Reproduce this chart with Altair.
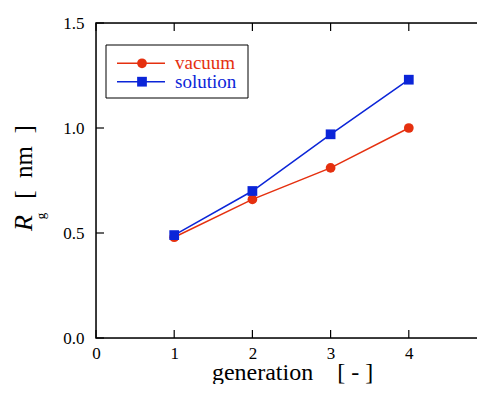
import altair as alt
import pandas as pd

# ---- data ----
generation = [1, 2, 3, 4]
vacuum = [0.48, 0.66, 0.81, 1.00]
solution = [0.49, 0.70, 0.97, 1.23]
series_names = ["vacuum", "solution"]
series_colors = ["#e5300f", "#0b25d8"]
series_shapes = ["circle", "square"]
x_ticks = [0, 1, 2, 3, 4, 5]
y_ticks = [0.0, 0.5, 1.0, 1.5]
x_title = "generation\u00a0\u00a0\u00a0\u00a0[ - ]"
y_title_main = "R"
y_title_sub = "g"
y_title_unit = "[\u00a0\u00a0nm\u00a0\u00a0]"

W, H = 381, 315      # visible part of the plot area (the reference runs past the window)
XR = 391             # pixel length of the full 0..5 x range
FONT = "Liberation Serif"
TICK = 8

rows = []
for name, vals in zip(series_names, [vacuum, solution]):
    for g, v in zip(generation, vals):
        rows.append({"generation": g, "Rg": v, "series": name})
df = pd.DataFrame(rows)

xs = alt.Scale(domain=[0, 5], range=[0, XR], nice=False, zero=False)
ys = alt.Scale(domain=[0, 1.5], nice=False, zero=False)

x_axis = alt.Axis(values=x_ticks, format="d", ticks=False, domain=False, grid=False,
                  labelFont=FONT, labelFontSize=17, labelColor="black",
                  labelPadding=7, title=None, labelFlush=False)
y_axis = alt.Axis(values=y_ticks, format=".1f", ticks=False, domain=False, grid=False,
                  labelFont=FONT, labelFontSize=17, labelColor="black",
                  labelPadding=12, title=None, labelFlush=False)

X = alt.X("generation:Q", scale=xs, axis=x_axis)
Y = alt.Y("Rg:Q", scale=ys, axis=y_axis)

color = alt.Color("series:N", scale=alt.Scale(domain=series_names, range=series_colors), legend=None)
shape = alt.Shape("series:N", scale=alt.Scale(domain=series_names, range=series_shapes), legend=None)

one = pd.DataFrame({"k": [0]})

# frame
frame = alt.Chart(one).mark_rect(fill="transparent", stroke="black", strokeWidth=1.5).encode(
    x=alt.value(0), x2=alt.value(XR), y=alt.value(0), y2=alt.value(H))

base = alt.Chart(df)
lines = base.mark_line(strokeWidth=1.5).encode(x=X, y=Y, color=color)
points = base.mark_point(filled=True, opacity=1, size=95).encode(x=X, y=Y, color=color, shape=shape)

# inward ticks on all four sides
xt = pd.DataFrame({"generation": x_ticks})
yt = pd.DataFrame({"Rg": y_ticks})
tick_style = dict(color="black", strokeWidth=1.2)
bottom_ticks = alt.Chart(xt).mark_rule(**tick_style).encode(x=X, y=alt.value(H), y2=alt.value(H - TICK))
top_ticks = alt.Chart(xt).mark_rule(**tick_style).encode(x=X, y=alt.value(0), y2=alt.value(TICK))
left_ticks = alt.Chart(yt).mark_rule(**tick_style).encode(y=Y, x=alt.value(0), x2=alt.value(TICK))
right_ticks = alt.Chart(yt).mark_rule(**tick_style).encode(y=Y, x=alt.value(XR - TICK), x2=alt.value(XR))

# axis titles
x_title_mark = alt.Chart(one).mark_text(text=x_title, font=FONT, fontSize=24, color="black",
                                        align="center", baseline="alphabetic").encode(
    x=alt.value(196.5), y=alt.value(357))
y_main = alt.Chart(one).mark_text(text=y_title_main, font=FONT, fontSize=26, fontStyle="italic",
                                  color="black", angle=270, align="center", baseline="alphabetic").encode(
    x=alt.value(-64), y=alt.value(200))
y_sub = alt.Chart(one).mark_text(text=y_title_sub, font=FONT, fontSize=13, color="black",
                                 angle=270, align="center", baseline="alphabetic").encode(
    x=alt.value(-51), y=alt.value(193))
y_unit = alt.Chart(one).mark_text(text=y_title_unit, font=FONT, fontSize=25, color="black",
                                  angle=270, align="center", baseline="alphabetic").encode(
    x=alt.value(-64), y=alt.value(139))

# legend box
legend_box = alt.Chart(one).mark_rect(fill="white", stroke="black", strokeWidth=1).encode(
    x=alt.value(10), x2=alt.value(152), y=alt.value(22), y2=alt.value(75))
legend_layers = [legend_box]
row_y = [40.3, 58.7]
for name, col, shp, yy in zip(series_names, series_colors, series_shapes, row_y):
    legend_layers.append(alt.Chart(one).mark_rule(color=col, strokeWidth=1.5).encode(
        x=alt.value(21), x2=alt.value(69), y=alt.value(yy)))
    legend_layers.append(alt.Chart(one).mark_point(shape=shp, filled=True, opacity=1, size=95, color=col).encode(
        x=alt.value(46), y=alt.value(yy)))
    legend_layers.append(alt.Chart(one).mark_text(text=name, font=FONT, fontSize=19, color=col,
                                                  align="left", baseline="middle").encode(
        x=alt.value(79), y=alt.value(yy)))

chart = alt.layer(
    frame, lines, points, bottom_ticks, top_ticks, left_ticks, right_ticks,
    *legend_layers, x_title_mark, y_main, y_sub, y_unit
).properties(
    width=W, height=H,
    autosize=alt.AutoSizeParams(type="none"),
    padding={"left": 88, "top": 15, "right": 0, "bottom": 46},
).configure_view(
    strokeWidth=0
).configure(background="white")

chart.save("out.html", embed_options={"renderer": "svg", "actions": False})
